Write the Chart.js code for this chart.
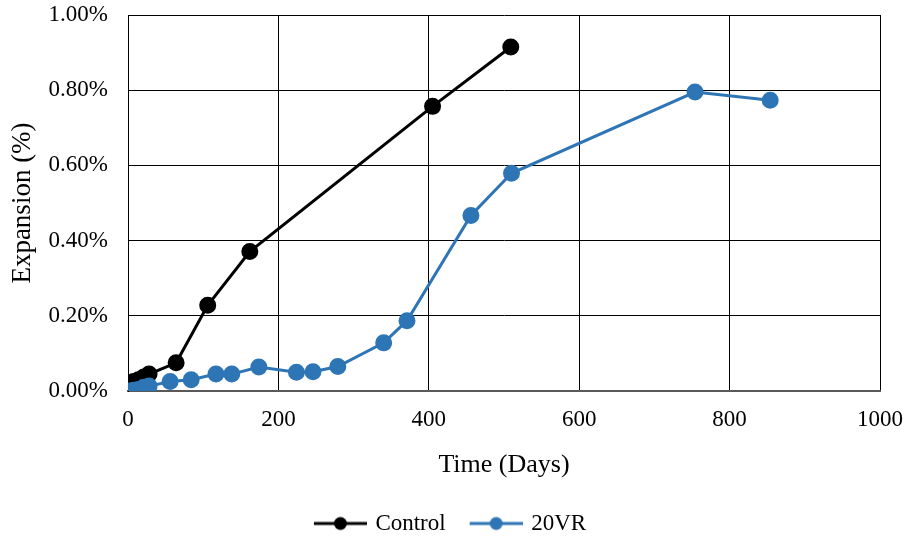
<!DOCTYPE html>
<html>
<head>
<meta charset="utf-8">
<script src="https://cdn.jsdelivr.net/npm/chart.js@4.4.1/dist/chart.umd.min.js"></script>
<style>
html,body{margin:0;padding:0;background:#fff;}
#wrap{width:907px;height:538px;}
</style>
</head>
<body>
<div id="wrap"><canvas id="c" width="907" height="538"></canvas></div>
<script>
const controlDays = [0, 7, 14, 21, 28, 64, 106, 162, 405, 509];
const controlExp  = [0.015, 0.025, 0.03, 0.037, 0.045, 0.075, 0.228, 0.371, 0.757, 0.915];
const vrDays = [0, 7, 14, 21, 28, 56, 84, 117, 138, 174, 224, 246, 279, 340, 371, 456, 510, 754, 854];
const vrExp  = [0, 0.002, 0.004, 0.01, 0.013, 0.025, 0.03, 0.045, 0.045, 0.064, 0.05, 0.051, 0.065, 0.128, 0.187, 0.467, 0.579, 0.795, 0.773];
const xTicks = [0, 200, 400, 600, 800, 1000];
const yTicks = [0, 0.2, 0.4, 0.6, 0.8, 1.0];
const seriesNames = ['Control', '20VR'];
const seriesColors = ['#000000', '#2E75B6'];

function toPts(xs, ys){ return xs.map((x,i)=>({x:x, y:ys[i]})); }

function legendIcon(color){
  const c = document.createElement('canvas');
  c.width = 76; c.height = 16;
  const g = c.getContext('2d');
  g.strokeStyle = color; g.lineWidth = 3;
  g.beginPath(); g.moveTo(23,8); g.lineTo(76,8); g.stroke();
  g.fillStyle = color;
  g.beginPath(); g.arc(49.5,8,6.5,0,Math.PI*2); g.fill();
  return c;
}

const FONT = "'Liberation Serif', 'Times New Roman', serif";

new Chart(document.getElementById('c'), {
  type: 'line',
  data: {
    datasets: [
      { label: seriesNames[0], order: 1, data: toPts(controlDays, controlExp), borderColor: seriesColors[0], backgroundColor: seriesColors[0], borderWidth: 3, pointRadius: 7, pointHoverRadius: 7, pointStyle: 'circle', tension: 0 },
      { label: seriesNames[1], order: 0, data: toPts(vrDays, vrExp), borderColor: seriesColors[1], backgroundColor: seriesColors[1], borderWidth: 3, pointRadius: 7, pointHoverRadius: 7, pointStyle: 'circle', tension: 0 }
    ]
  },
  options: {
    responsive: false,
    animation: false,
    layout: { padding: { left: 0, right: 27, top: 0, bottom: -7 } },
    plugins: {
      tooltip: { enabled: false },
      legend: {
        position: 'bottom',
        labels: {
          font: { family: FONT, size: 23 },
          color: '#000',
          usePointStyle: true,
          pointStyleWidth: 70,
          padding: 4,
          generateLabels: function(chart){
            return chart.data.datasets.map((d,i)=>({
              text: d.label, fillStyle: d.borderColor, strokeStyle: d.borderColor,
              pointStyle: legendIcon(d.borderColor), datasetIndex: i, hidden: false, lineWidth: 0
            }));
          }
        }
      }
    },
    scales: {
      x: {
        type: 'linear', min: 0, max: 1000,
        afterBuildTicks: (s)=>{ s.ticks = xTicks.map(v=>({value:v})); },
        ticks: { font: { family: FONT, size: 23 }, color: '#000', padding: 15, callback: (v)=>String(v) },
        grid: { color: '#000', lineWidth: 1, drawTicks: false },
        border: { color: '#595959', width: 2 },
        title: { display: true, text: 'Time (Days)', font: { family: FONT, size: 26 }, color: '#000', padding: { top: 0, bottom: 27 } },
        afterFit: (s)=>{ s.height = 117; s.paddingLeft = 0; s.paddingRight = 0; }
      },
      y: {
        type: 'linear', min: 0, max: 1.0,
        afterBuildTicks: (s)=>{ s.ticks = yTicks.map(v=>({value:v})); },
        ticks: { font: { family: FONT, size: 23 }, color: '#000', padding: 20, callback: (v)=>Number(v).toFixed(2)+'%' },
        grid: { color: '#000', lineWidth: 1, drawTicks: false },
        border: { color: '#000', width: 1 },
        title: { display: true, text: 'Expansion (%)', font: { family: FONT, size: 27 }, color: '#000', padding: { top: 7, bottom: 0 } },
        afterFit: (s)=>{ s.width = 128; s.paddingTop = 15; s.paddingBottom = 0; }
      }
    }
  }
});
</script>
</body>
</html>
